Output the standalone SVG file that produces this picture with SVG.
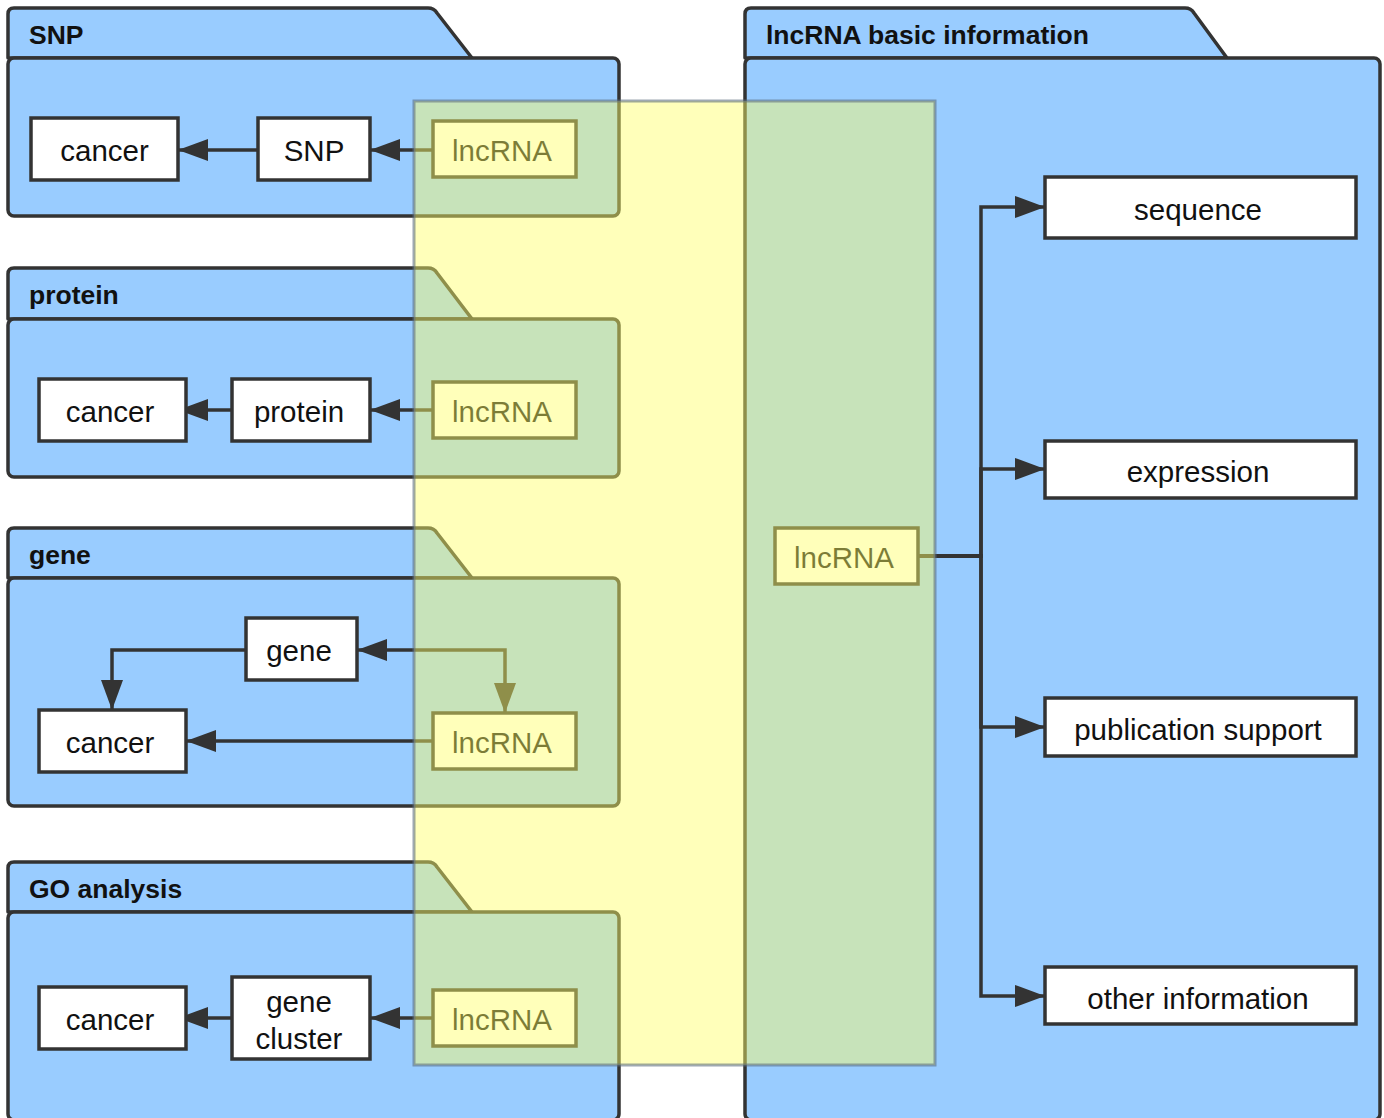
<svg xmlns="http://www.w3.org/2000/svg" width="1384" height="1118" viewBox="0 0 1384 1118">
<style>
.folder{fill:#99ccff;stroke:#333;stroke-width:3.5;stroke-linejoin:round}
.ftitle{font-family:"Liberation Sans",Arial,sans-serif;font-weight:bold;font-size:26.5px;fill:#111}
.box{fill:#fff;stroke:#333;stroke-width:3.5}
.lbl{font-family:"Liberation Sans",Arial,sans-serif;font-size:29.5px;fill:#111;text-anchor:middle}
.edge{fill:none;stroke:#333;stroke-width:3.5}
.overlay{fill:#ffff66;fill-opacity:0.45;stroke:#5f6f7f;stroke-opacity:0.6;stroke-width:3}
</style>
<defs>
<marker id="arr" markerUnits="userSpaceOnUse" markerWidth="30" markerHeight="22" refX="30" refY="11" orient="auto-start-reverse" viewBox="0 0 30 22">
<path d="M0,0 L30,11 L0,22 Z" fill="#333"/>
</marker>
</defs>
<rect width="1384" height="1118" fill="#fff"/>

<g id="folder-snp">
<path class="folder" d="M8,58 V14 Q8,8 14,8 H428 Q434,8 437,13 L472,58 Z"/>
<rect class="folder" x="8" y="58" width="611" height="158" rx="6"/>
<text class="ftitle" x="29" y="44">SNP</text>
</g>
<g id="folder-protein">
<path class="folder" d="M8,319 V274 Q8,268 14,268 H428 Q434,268 437,273 L472,319 Z"/>
<rect class="folder" x="8" y="319" width="611" height="158" rx="6"/>
<text class="ftitle" x="29" y="304">protein</text>
</g>
<g id="folder-gene">
<path class="folder" d="M8,578 V534 Q8,528 14,528 H428 Q434,528 437,533 L472,578 Z"/>
<rect class="folder" x="8" y="578" width="611" height="228" rx="6"/>
<text class="ftitle" x="29" y="564">gene</text>
</g>
<g id="folder-go">
<path class="folder" d="M8,912 V868 Q8,862 14,862 H428 Q434,862 437,867 L472,912 Z"/>
<rect class="folder" x="8" y="912" width="611" height="208" rx="6"/>
<text class="ftitle" x="29" y="898">GO analysis</text>
</g>
<g id="folder-basic">
<path class="folder" d="M745,58 V14 Q745,8 751,8 H1185 Q1191,8 1194,13 L1227,58 Z"/>
<rect class="folder" x="745" y="58" width="635" height="1062" rx="6"/>
<text class="ftitle" x="766" y="44">lncRNA basic information</text>
</g>

<g id="connectors">
<path class="edge" d="M433,150 H370" marker-end="url(#arr)"/>
<path class="edge" d="M258,150 H178" marker-end="url(#arr)"/>
<path class="edge" d="M433,410 H370" marker-end="url(#arr)"/>
<path class="edge" d="M232,410 H178" marker-end="url(#arr)"/>
<path class="edge" d="M246,650 H112 V710" marker-end="url(#arr)"/>
<path class="edge" d="M357,650 H505 V713" marker-start="url(#arr)" marker-end="url(#arr)"/>
<path class="edge" d="M433,741 H186" marker-end="url(#arr)"/>
<path class="edge" d="M433,1018 H370" marker-end="url(#arr)"/>
<path class="edge" d="M232,1018 H178" marker-end="url(#arr)"/>
<path class="edge" d="M918,556 H981 V207 H1045" marker-end="url(#arr)"/>
<path class="edge" d="M918,556 H981 V469 H1045" marker-end="url(#arr)"/>
<path class="edge" d="M918,556 H981 V727 H1045" marker-end="url(#arr)"/>
<path class="edge" d="M918,556 H981 V996 H1045" marker-end="url(#arr)"/>
</g>

<g id="snp-cancer"><rect class="box" x="31" y="118" width="147" height="62"/><text class="lbl" x="104.5" y="161">cancer</text></g>
<g id="snp-snp"><rect class="box" x="258" y="118" width="112" height="62"/><text class="lbl" x="314" y="161">SNP</text></g>
<g id="snp-lncrna"><rect class="box" x="433" y="121" width="143" height="56"/><text class="lbl" x="502" y="161">lncRNA</text></g>

<g id="protein-cancer"><rect class="box" x="39" y="379" width="147" height="62"/><text class="lbl" x="110" y="422">cancer</text></g>
<g id="protein-protein"><rect class="box" x="232" y="379" width="138" height="62"/><text class="lbl" x="299" y="422">protein</text></g>
<g id="protein-lncrna"><rect class="box" x="433" y="382" width="143" height="56"/><text class="lbl" x="502" y="422">lncRNA</text></g>

<g id="gene-gene"><rect class="box" x="246" y="618" width="111" height="62"/><text class="lbl" x="299" y="661">gene</text></g>
<g id="gene-cancer"><rect class="box" x="39" y="710" width="147" height="62"/><text class="lbl" x="110" y="753">cancer</text></g>
<g id="gene-lncrna"><rect class="box" x="433" y="713" width="143" height="56"/><text class="lbl" x="502" y="753">lncRNA</text></g>

<g id="go-cancer"><rect class="box" x="39" y="987" width="147" height="62"/><text class="lbl" x="110" y="1030">cancer</text></g>
<g id="go-genecluster"><rect class="box" x="232" y="977" width="138" height="82"/><text class="lbl" x="299" y="1012">gene</text><text class="lbl" x="299" y="1049">cluster</text></g>
<g id="go-lncrna"><rect class="box" x="433" y="990" width="143" height="56"/><text class="lbl" x="502" y="1030">lncRNA</text></g>

<g id="basic-lncrna"><rect class="box" x="775" y="528" width="143" height="56"/><text class="lbl" x="844" y="568">lncRNA</text></g>
<g id="basic-sequence"><rect class="box" x="1045" y="177" width="311" height="61"/><text class="lbl" x="1198" y="220">sequence</text></g>
<g id="basic-expression"><rect class="box" x="1045" y="441" width="311" height="57"/><text class="lbl" x="1198" y="482">expression</text></g>
<g id="basic-publication"><rect class="box" x="1045" y="698" width="311" height="58"/><text class="lbl" x="1198" y="740">publication support</text></g>
<g id="basic-other"><rect class="box" x="1045" y="967" width="311" height="57"/><text class="lbl" x="1198" y="1009">other information</text></g>

<g id="lncrna-overlay"><rect class="overlay" x="414" y="101" width="521" height="964"/></g>
</svg>
